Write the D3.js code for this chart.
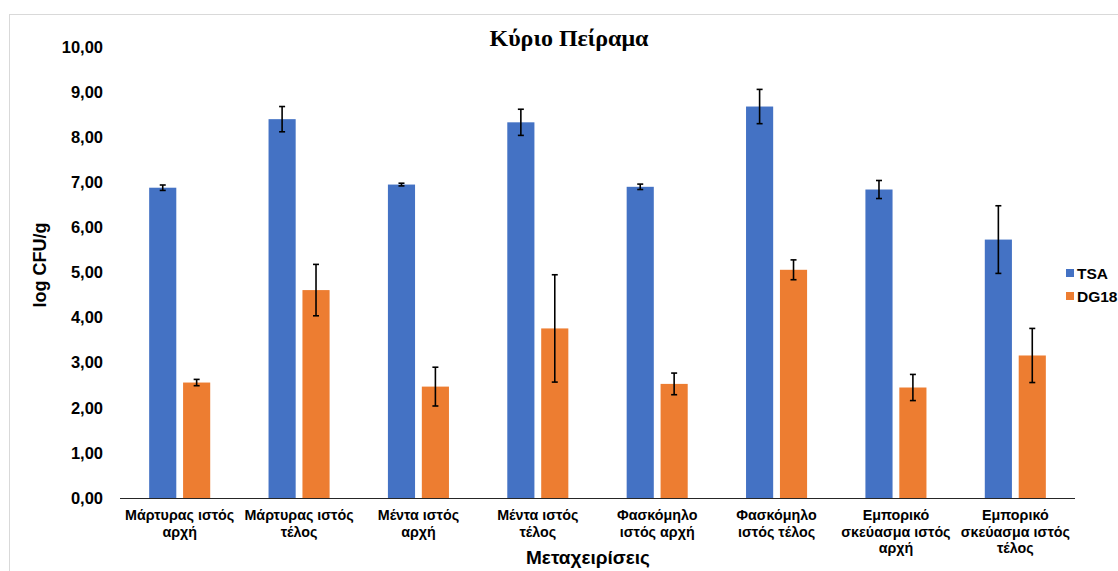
<!DOCTYPE html>
<html>
<head>
<meta charset="utf-8">
<script src="https://cdn.jsdelivr.net/npm/d3@7"></script>
<style>
  body { margin: 0; background: #fff; }
  svg { display: block; }
</style>
</head>
<body>
<div id="chart"></div>
<script>
// categories (each label split into its lines)
const categories = [
  ["Μάρτυρας ιστός", "αρχή"],
  ["Μάρτυρας ιστός", "τέλος"],
  ["Μέντα ιστός", "αρχή"],
  ["Μέντα ιστός", "τέλος"],
  ["Φασκόμηλο", "ιστός αρχή"],
  ["Φασκόμηλο", "ιστός τέλος"],
  ["Εμπορικό", "σκεύασμα ιστός", "αρχή"],
  ["Εμπορικό", "σκεύασμα ιστός", "τέλος"]
];
const seriesNames = ["TSA", "DG18"];
const tsaValues  = [6.88, 8.40, 6.95, 8.33, 6.90, 8.68, 6.84, 5.73];
const tsaErrors  = [0.06, 0.28, 0.03, 0.29, 0.06, 0.38, 0.20, 0.75];
const dg18Values = [2.56, 4.61, 2.47, 3.76, 2.53, 5.06, 2.45, 3.16];
const dg18Errors = [0.07, 0.57, 0.43, 1.19, 0.24, 0.22, 0.29, 0.60];
const yTicks = [0, 1, 2, 3, 4, 5, 6, 7, 8, 9, 10];

const colors = {TSA: "#4472C4", DG18: "#ED7D31"};
const width = 1118, height = 571;

const svg = d3.select("#chart").append("svg")
    .attr("width", width)
    .attr("height", height);

// chart area border (cropped on the right and bottom like the picture)
svg.append("rect")
    .attr("x", 9.5).attr("y", 14.5)
    .attr("width", 1200).attr("height", 600)
    .attr("fill", "#fff")
    .attr("stroke", "#d9d9d9");

const catKeys = categories.map(c => c.join(" "));

const x0 = d3.scaleBand()
    .domain(catKeys)
    .range([120, 1075])
    .padding(0);

const x1 = d3.scaleBand()
    .domain(seriesNames)
    .range([0, x0.bandwidth()])
    .paddingInner(0.2)
    .paddingOuter(0.86);

const y = d3.scaleLinear()
    .domain([0, 10])
    .range([498, 47]);

const rows = [];
catKeys.forEach((k, i) => {
    rows.push({cat: k, s: "TSA", v: tsaValues[i], e: tsaErrors[i]});
    rows.push({cat: k, s: "DG18", v: dg18Values[i], e: dg18Errors[i]});
});

// bars
svg.append("g").selectAll("rect")
    .data(rows)
    .join("rect")
    .attr("x", d => x0(d.cat) + x1(d.s))
    .attr("y", d => y(d.v))
    .attr("width", x1.bandwidth())
    .attr("height", d => y(0) - y(d.v))
    .attr("fill", d => colors[d.s]);

// error bars
const eb = svg.append("g")
    .attr("stroke", "#000")
    .attr("stroke-width", 1.6);
rows.forEach(d => {
    const cx = x0(d.cat) + x1(d.s) + x1.bandwidth() / 2;
    eb.append("line").attr("x1", cx).attr("x2", cx)
        .attr("y1", y(d.v + d.e)).attr("y2", y(d.v - d.e));
    eb.append("line").attr("x1", cx - 3).attr("x2", cx + 3)
        .attr("y1", y(d.v + d.e)).attr("y2", y(d.v + d.e));
    eb.append("line").attr("x1", cx - 3).attr("x2", cx + 3)
        .attr("y1", y(d.v - d.e)).attr("y2", y(d.v - d.e));
});

// y axis (labels only)
const yAxis = svg.append("g")
    .attr("transform", "translate(112,0)")
    .call(d3.axisLeft(y).tickValues(yTicks).tickSize(0)
        .tickFormat(d => d.toFixed(2).replace(".", ",")));
yAxis.select(".domain").remove();
yAxis.selectAll("text")
    .attr("x", -9)
    .attr("font-family", "Liberation Sans, Arial, sans-serif")
    .attr("font-size", 16.5)
    .attr("font-weight", "bold")
    .attr("fill", "#000");

// x axis line
svg.append("line")
    .attr("x1", x0.range()[0]).attr("x2", x0.range()[1])
    .attr("y1", y(0) + 0.5).attr("y2", y(0) + 0.5)
    .attr("stroke", "#262626")
    .attr("stroke-width", 1.2);

// category labels
const catLabels = svg.append("g")
    .attr("font-family", "Liberation Sans, Arial, sans-serif")
    .attr("font-size", 14.3)
    .attr("font-weight", "bold")
    .attr("text-anchor", "middle")
    .attr("fill", "#000");
categories.forEach((lines, i) => {
    const cx = x0(catKeys[i]) + x0.bandwidth() / 2;
    const t = catLabels.append("text")
        .attr("x", cx)
        .attr("y", 520);
    lines.forEach((ln, j) => {
        t.append("tspan")
            .attr("x", cx)
            .attr("dy", j === 0 ? 0 : 16.5)
            .text(ln);
    });
});

// title
svg.append("text")
    .attr("x", 569).attr("y", 46)
    .attr("text-anchor", "middle")
    .attr("font-family", "Liberation Serif, Times New Roman, serif")
    .attr("font-size", 24)
    .attr("font-weight", "bold")
    .text("Κύριο Πείραμα");

// axis titles
svg.append("text")
    .attr("transform", "translate(46,265) rotate(-90)")
    .attr("text-anchor", "middle")
    .attr("font-family", "Liberation Sans, Arial, sans-serif")
    .attr("font-size", 18)
    .attr("font-weight", "bold")
    .text("log CFU/g");

svg.append("text")
    .attr("x", 588).attr("y", 564)
    .attr("text-anchor", "middle")
    .attr("font-family", "Liberation Sans, Arial, sans-serif")
    .attr("font-size", 19)
    .attr("font-weight", "bold")
    .text("Μεταχειρίσεις");

// legend
const legend = svg.append("g")
    .attr("font-family", "Liberation Sans, Arial, sans-serif")
    .attr("font-size", 15.5)
    .attr("font-weight", "bold");
seriesNames.forEach((s, i) => {
    const ly = 273 + i * 23;
    legend.append("rect")
        .attr("x", 1066).attr("y", ly - 4)
        .attr("width", 8).attr("height", 8)
        .attr("fill", colors[s]);
    legend.append("text")
        .attr("x", 1077).attr("y", ly + 5.5)
        .text(s);
});
</script>
</body>
</html>
